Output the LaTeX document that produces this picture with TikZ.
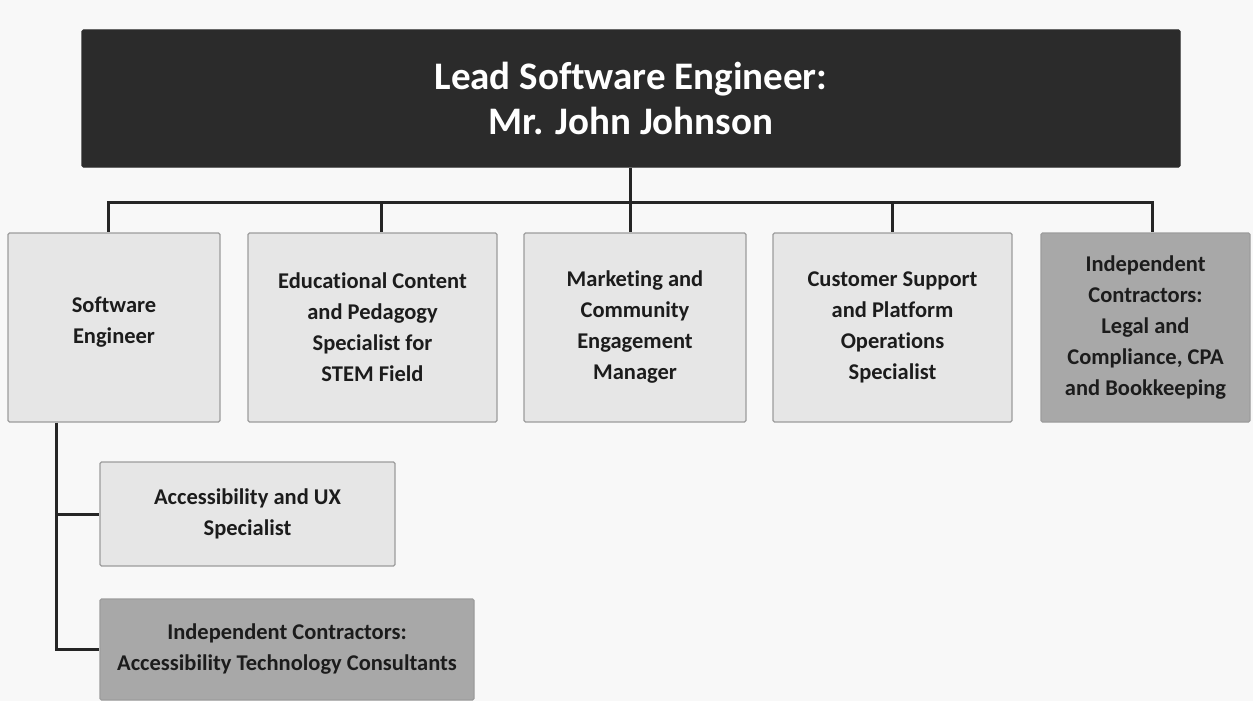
\documentclass[tikz,border=0pt]{standalone}
\usepackage{fontspec}
\setmainfont{Carlito}[Ligatures=NoCommon]
\begin{document}
\begin{tikzpicture}[x=1pt,y=-1pt,
  box/.style={draw=boxline,line width=1.3pt,rounded corners=1.5pt,align=center,inner sep=0pt,
    font=\fontsize{22.5}{31}\selectfont\bfseries,text=txt},
  light/.style={box,fill=lightfill},
  dark/.style={box,fill=darkfill},
  conn/.style={draw=linec,line width=3pt}]
\definecolor{bg}{HTML}{F8F8F8}
\definecolor{boxline}{HTML}{9C9C9C}
\definecolor{lightfill}{HTML}{E6E6E6}
\definecolor{darkfill}{HTML}{A8A8A8}
\definecolor{topfill}{HTML}{2B2B2B}
\definecolor{txt}{HTML}{1C1C1C}
\definecolor{linec}{HTML}{252525}
\fill[bg] (0,0) rectangle (1253,701);
\useasboundingbox (0,0) rectangle (1253,701);
\node[box,fill=topfill,draw=topfill,text=white,minimum width=1098pt,minimum height=137pt,
  font=\fontsize{39}{45}\selectfont\bfseries] (top) at (631,98.5) {Lead Software Engineer:\\Mr. John Johnson};
\node[light,minimum width=212pt,minimum height=189pt] (b1) at (114,327.5) {Software\\Engineer\\[-17pt]};
\node[light,minimum width=249pt,minimum height=189pt] (b2) at (372.5,327.5) {Educational Content\\and Pedagogy\\Specialist for\\STEM Field};
\node[light,minimum width=222pt,minimum height=189pt] (b3) at (635,327.5) {Marketing and\\Community\\Engagement\\Manager};
\node[light,minimum width=239pt,minimum height=189pt] (b4) at (892.5,327.5) {Customer Support\\and Platform\\Operations\\Specialist};
\node[dark,minimum width=209pt,minimum height=189pt] (b5) at (1145.5,327.5) {Independent\\Contractors:\\Legal and\\Compliance, CPA\\and Bookkeeping};
\node[light,minimum width=295pt,minimum height=104pt] (acc) at (247.5,514) {Accessibility and UX\\Specialist};
\node[dark,minimum width=374pt,minimum height=101pt] (ind) at (287,649.5) {Independent Contractors:\\Accessibility Technology Consultants};
\coordinate (s1) at (108,202);
\coordinate (s2) at (381,202);
\coordinate (s3) at (630,202);
\coordinate (s4) at (892,202);
\coordinate (s5) at (1152,202);
\coordinate (v) at (56,422);
\draw[conn] (top.south -| s3) -- (s3);
\draw[conn,line cap=rect] (s1) -- (s5);
\draw[conn] (s1) -- (s1 |- b1.north);
\draw[conn] (s2) -- (s2 |- b2.north);
\draw[conn] (s3) -- (s3 |- b3.north);
\draw[conn] (s4) -- (s4 |- b4.north);
\draw[conn] (s5) -- (s5 |- b5.north);
\draw[conn] (v |- b1.south) |- (acc.west);
\draw[conn] (v |- acc.west) |- (ind.west);
\end{tikzpicture}
\end{document}
